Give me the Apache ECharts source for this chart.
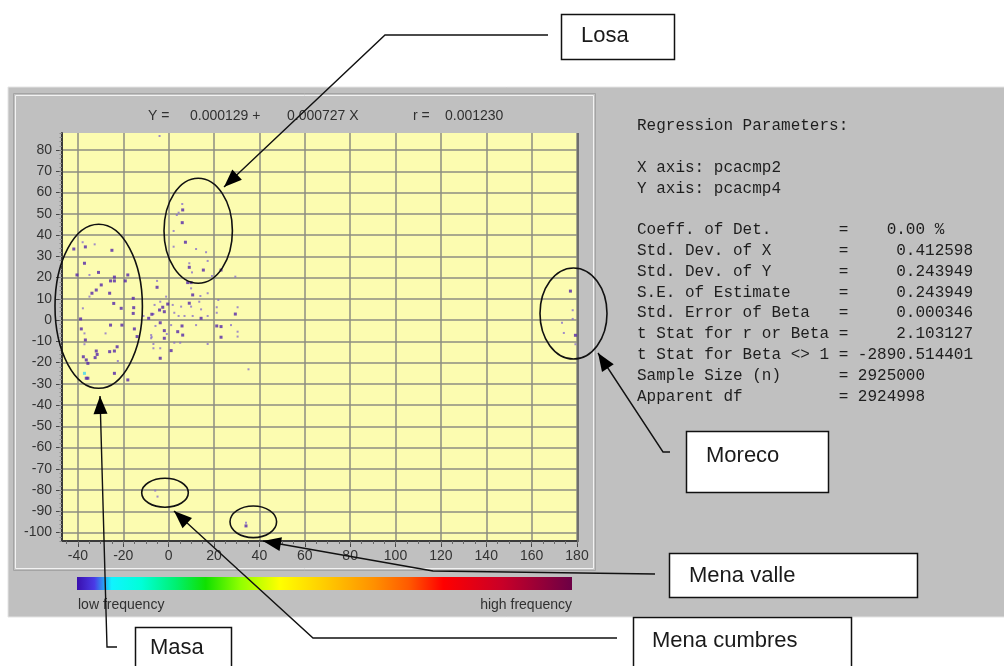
<!DOCTYPE html>
<html>
<head>
<meta charset="utf-8">
<script src="https://cdn.jsdelivr.net/npm/echarts@6/dist/echarts.min.js"></script>
<style>
  html, body { margin: 0; padding: 0; background: #ffffff; }
  #chart { width: 1004px; height: 666px; }
</style>
</head>
<body>
<div id="chart"></div>
<script>
// ---- data: pcacmp2 (x) vs pcacmp4 (y), third value = frequency of the cell ----
const masaPts = [
  [-37.9, 36.6, 1], [-36.7, 34.4, 2], [-32.6, 35.6, 1], [-41.8, 33.4, 2], [-25.0, 32.8, 2],
  [-37.1, 26.7, 2], [-40.4, 21.2, 2], [-34.9, 21.2, 1], [-30.9, 22.4, 2], [-23.9, 20.2, 2],
  [-18.0, 21.2, 2], [-19.1, 18.4, 2], [-25.6, 18.4, 2], [-23.9, 18.4, 2], [-29.7, 16.5, 2],
  [-31.9, 14.1, 2], [-33.8, 12.6, 2], [-34.9, 11.0, 1], [-26.0, 12.6, 2], [-24.2, 7.8, 2],
  [-15.6, 10.2, 2], [-15.4, 5.8, 2], [-20.9, 5.5, 2], [-37.8, 5.5, 1], [-15.6, 3.1, 2],
  [-38.8, 0.5, 2], [-25.6, -2.4, 2], [-20.6, -2.4, 2], [-38.5, -4.2, 2], [-37.1, -6.3, 1],
  [-27.8, -6.3, 1], [-15.1, -4.2, 2], [-13.9, -7.8, 2], [-36.7, -9.4, 2], [-37.1, -11.4, 1],
  [-31.9, -14.6, 2], [-31.5, -16.2, 2], [-32.4, -17.7, 2], [-26.0, -14.9, 2], [-23.9, -14.6, 2],
  [-22.7, -12.6, 2], [-37.6, -17.3, 2], [-36.3, -18.8, 2], [-35.6, -20.4, 2], [-22.4, -19.3, 1],
  [-37.1, -25.1, 6], [-36.3, -27.4, 2], [-35.6, -27.4, 2], [-23.9, -25.1, 2], [-18.0, -28.2, 2]
];
const losaCentrePts = [
  [6.0, 54.6, 1], [6.2, 51.8, 2], [4.4, 50.5, 1], [3.6, 49.4, 1], [6.0, 45.8, 2],
  [2.2, 41.9, 1], [7.4, 36.6, 2], [2.2, 34.5, 1], [12.1, 33.4, 1], [16.5, 31.9, 1],
  [17.2, 27.8, 1], [9.1, 26.7, 1], [9.1, 24.8, 2], [15.3, 23.5, 2], [10.3, 22.4, 1],
  [23.1, 23.5, 2], [19.1, 20.7, 1], [29.4, 20.4, 1], [8.4, 17.6, 2], [9.9, 17.6, 2],
  [-5.1, 18.4, 1], [-5.1, 15.4, 2], [9.9, 14.9, 1], [10.6, 11.8, 2], [17.2, 12.6, 1],
  [14.0, 11.3, 1], [21.9, 9.4, 1], [-1.1, 11.0, 1], [-3.7, 8.6, 1], [-0.4, 7.5, 2],
  [-2.6, 6.0, 2], [1.8, 7.1, 1], [9.1, 7.9, 2], [9.9, 6.3, 1], [5.5, 6.3, 1],
  [13.5, 8.6, 1], [14.3, 5.0, 1], [21.2, 6.0, 1], [30.4, 6.0, 1], [-6.2, 7.1, 1],
  [-4.0, 4.7, 2], [-6.7, 2.8, 1], [-8.8, 0.8, 2], [-11.1, 1.9, 1], [-1.9, 3.9, 2],
  [2.5, 3.4, 1], [4.4, 1.9, 1], [7.0, 1.9, 1], [10.6, 1.9, 1], [14.3, 0.8, 2],
  [17.2, 1.9, 1], [21.2, 3.4, 1], [29.4, 2.8, 2], [-3.7, -1.3, 2], [1.1, -2.4, 1],
  [5.9, -2.8, 2], [12.1, -2.4, 1], [21.2, -2.8, 2], [23.1, -3.1, 2], [27.5, -2.4, 1],
  [-5.8, -2.8, 1], [-1.9, -5.0, 2], [4.0, -5.5, 2], [6.2, -7.1, 2], [-0.8, -6.6, 1],
  [-1.9, -8.6, 2], [-7.7, -7.1, 1], [-7.7, -8.6, 1], [23.1, -8.1, 2], [30.4, -5.5, 1],
  [30.4, -7.8, 1], [2.5, -10.7, 1], [5.1, -10.7, 1], [17.2, -11.3, 1], [-6.7, -11.3, 1],
  [-6.7, -13.3, 1], [-3.7, -13.3, 1], [1.1, -14.4, 2], [-3.7, -18.0, 2], [35.2, -23.2, 1],
  [-7.4, 2.7, 2], [-7.5, -8.0, 1], [-4.0, 86.6, 1]
];
const morecoPts = [
  [177.1, 13.6, 2], [178.1, 4.6, 1], [178.1, 0.5, 1], [173.4, -1.3, 1],
  [174.2, -6.1, 1], [179.3, -7.2, 2], [179.3, -11.4, 1]
];
const menaCumbresPts = [[-5.9, -80.3, 1], [-4.9, -83.1, 1]];
const menaVallePts = [[34.1, -95.4, 1], [34.1, -96.9, 2]];

// axis ticks and labels
const xTicks = [-40, -20, 0, 20, 40, 60, 80, 100, 120, 140, 160, 180];
const yTicks = [80, 70, 60, 50, 40, 30, 20, 10, 0, -10, -20, -30, -40, -50, -60, -70, -80, -90, -100];
const xMinorTicks = [];
for (let v = -45; v <= 180; v += 5) xMinorTicks.push(v);
const yMinorTicks = [];
for (let v = -104; v <= 88; v += 2) yMinorTicks.push(v);

// regression summary
const eqIntercept = '0.000129';
const eqSlope = '0.000727';
const eqR = '0.001230';
const xVarName = 'pcacmp2';
const yVarName = 'pcacmp4';
const statNames = [
  'Coeff. of Det.', 'Std. Dev. of X', 'Std. Dev. of Y', 'S.E. of Estimate',
  'Std. Error of Beta', 't Stat for r or Beta', 't Stat for Beta <> 1',
  'Sample Size (n)', 'Apparent df'
];
const statValues = [
  '   0.00 %', '    0.412598', '    0.243949', '    0.243949',
  '    0.000346', '    2.103127', '-2890.514401', '2925000', '2924998'
];

// colour scale of the frequency bar
const freqStops = [
  [0, '#3a0fae'], [0.035, '#4a3ae6'], [0.07, '#10f4ff'], [0.13, '#00ffd8'],
  [0.2, '#00f070'], [0.26, '#10e000'], [0.33, '#90ff00'], [0.41, '#ffff00'],
  [0.5, '#ffcc00'], [0.6, '#ff9000'], [0.67, '#ff5a00'], [0.74, '#ff0000'],
  [0.86, '#c80028'], [1, '#6c0045']
];

// callout labels for the clusters
const callouts = [
  { name: 'Losa', box: [561, 14, 113, 45], text: [581, 36], path: [[548, 35], [385, 35]], tip: [224, 187] },
  { name: 'Moreco', box: [686, 431, 142, 61], text: [706, 456], path: [[670, 452], [663, 452]], tip: [598, 353] },
  { name: 'Mena valle', box: [669, 553, 248, 44], text: [689, 576], path: [[655, 574], [433, 571]], tip: [263, 541] },
  { name: 'Mena cumbres', box: [633, 617, 218, 60], text: [652, 641], path: [[617, 638], [313, 638]], tip: [174, 511] },
  { name: 'Masa', box: [135, 627, 96, 50], text: [150, 648], path: [[117, 647], [107, 647]], tip: [100, 396] }
];
const clusterRings = [
  { cx: 98.7, cy: 306.3, rx: 43.7, ry: 82 },
  { cx: 198.2, cy: 230.8, rx: 34.2, ry: 52.5 },
  { cx: 573.5, cy: 313.5, rx: 33.5, ry: 45.5 },
  { cx: 165, cy: 492.8, rx: 23.3, ry: 14.5 },
  { cx: 253.3, cy: 521.8, rx: 23.3, ry: 15.8 }
];

const chart = echarts.init(document.getElementById('chart'), null, { renderer: 'canvas' });

const SANS = 'Liberation Sans, Arial, sans-serif';
const MONO = 'Liberation Mono, Courier New, monospace';
const graphics = [];

// window panels
graphics.push({ type: 'rect', z: -20, shape: { x: 8, y: 87, width: 1000, height: 530 },
  style: { fill: '#c0c0c0', stroke: '#e4e4e4', lineWidth: 1 } });
graphics.push({ type: 'rect', z: -19, shape: { x: 13.5, y: 93.5, width: 582, height: 477 },
  style: { fill: 'none', stroke: '#a4a4a4', lineWidth: 1 } });
graphics.push({ type: 'rect', z: -19, shape: { x: 15.5, y: 95.5, width: 578, height: 473 },
  style: { fill: 'none', stroke: '#f2f2f2', lineWidth: 1 } });

// regression equation above the plot
const eqParts = [
  ['Y =', 148], [eqIntercept + ' +', 190], [eqSlope + ' X', 287], ['r =', 413], [eqR, 445]
];
eqParts.forEach(p => graphics.push({ type: 'text', z: 5, x: p[1], y: 116,
  style: { text: p[0], fill: '#303030', font: '14px ' + SANS, verticalAlign: 'middle' } }));

// plot frame (right edge shading)
graphics.push({ type: 'line', z: 5, shape: { x1: 578, y1: 133, x2: 578, y2: 542 },
  style: { stroke: '#6e6e6e', lineWidth: 2 } });

// regression parameter listing
const statLines = ['Regression Parameters:', '', 'X axis: ' + xVarName, 'Y axis: ' + yVarName, '']
  .concat(statNames.map((n, i) => n.padEnd(21, ' ') + '= ' + statValues[i]));
statLines.forEach((line, i) => {
  if (!line) return;
  graphics.push({ type: 'text', z: 5, x: 637, y: 126 + 20.8 * i,
    style: { text: line, fill: '#1e1e1e', font: '16px ' + MONO, verticalAlign: 'middle' } });
});

// frequency colour bar
graphics.push({ type: 'rect', z: 5, shape: { x: 77, y: 577, width: 495, height: 13 },
  style: { fill: new echarts.graphic.LinearGradient(0, 0, 1, 0,
    freqStops.map(s => ({ offset: s[0], color: s[1] }))) } });
graphics.push({ type: 'text', z: 5, x: 78, y: 605,
  style: { text: 'low frequency', fill: '#303030', font: '14px ' + SANS, verticalAlign: 'middle' } });
graphics.push({ type: 'text', z: 5, x: 572, y: 605,
  style: { text: 'high frequency', fill: '#303030', font: '14px ' + SANS, verticalAlign: 'middle', align: 'right' } });

// cluster rings
clusterRings.forEach(r => graphics.push({ type: 'ellipse', z: 50,
  shape: { cx: r.cx, cy: r.cy, rx: r.rx, ry: r.ry },
  style: { fill: 'none', stroke: '#111', lineWidth: 1.6 } }));

// leader lines, arrow heads and label boxes
function arrowHead(tip, from, len, half) {
  const dx = tip[0] - from[0], dy = tip[1] - from[1];
  const d = Math.hypot(dx, dy);
  const ux = dx / d, uy = dy / d;
  const bx = tip[0] - ux * len, by = tip[1] - uy * len;
  return [tip, [bx - uy * half, by + ux * half], [bx + uy * half, by - ux * half]];
}
callouts.forEach(c => {
  const pts = c.path.concat([c.tip]);
  const last = pts[pts.length - 2];
  graphics.push({ type: 'polyline', z: 50, shape: { points: pts },
    style: { stroke: '#111', lineWidth: 1.4, fill: null } });
  graphics.push({ type: 'polygon', z: 51, shape: { points: arrowHead(c.tip, last, 18, 7) },
    style: { fill: '#000' } });
  graphics.push({ type: 'rect', z: 52,
    shape: { x: c.box[0] + 0.5, y: c.box[1] + 0.5, width: c.box[2], height: c.box[3] },
    style: { fill: '#ffffff', stroke: '#111', lineWidth: 1.5 } });
  graphics.push({ type: 'text', z: 53, x: c.text[0], y: c.text[1],
    style: { text: c.name, fill: '#1a1a1a', font: '22px ' + SANS, verticalAlign: 'middle' } });
});

const allPts = [].concat(masaPts, losaCentrePts, morecoPts, menaCumbresPts, menaVallePts);

const option = {
  backgroundColor: '#ffffff',
  animation: false,
  grid: { left: 62, top: 133, width: 515, height: 408, show: true,
    backgroundColor: '#fcfcb0', borderWidth: 0 },
  visualMap: {
    show: false, type: 'piecewise', dimension: 2, seriesIndex: 0,
    pieces: [
      { lte: 1, color: '#8a70cc', symbolSize: 2 },
      { gt: 1, lte: 3, color: '#5426aa', symbolSize: 3 },
      { gt: 3, color: '#40d4f0', symbolSize: 3 }
    ]
  },
  xAxis: [
    { type: 'value', min: -47, max: 180, gridIndex: 0, position: 'bottom',
      axisLine: { show: true, onZero: false, lineStyle: { color: '#3a3a3a', width: 2 } },
      axisTick: { show: true, customValues: xTicks, length: 6, lineStyle: { color: '#444', width: 1 } },
      axisLabel: { customValues: xTicks, color: '#333', fontSize: 14, fontFamily: SANS, margin: 8 },
      splitLine: { show: true, lineStyle: { color: '#8e8e82', width: 1.5 } } },
    { type: 'value', min: -47, max: 180, gridIndex: 0, position: 'bottom',
      axisLine: { show: false, onZero: false },
      axisTick: { show: true, customValues: xMinorTicks, length: 3, lineStyle: { color: '#666', width: 1 } },
      axisLabel: { show: false }, splitLine: { show: false } }
  ],
  yAxis: [
    { type: 'value', min: -104, max: 88, gridIndex: 0, position: 'left',
      axisLine: { show: true, onZero: false, lineStyle: { color: '#3a3a3a', width: 2 } },
      axisTick: { show: true, customValues: yTicks, length: 6, lineStyle: { color: '#444', width: 1 } },
      axisLabel: { customValues: yTicks, color: '#333', fontSize: 14, fontFamily: SANS, margin: 10 },
      splitLine: { show: true, lineStyle: { color: '#8e8e82', width: 1.5 } } },
    { type: 'value', min: -104, max: 88, gridIndex: 0, position: 'left',
      axisLine: { show: false, onZero: false },
      axisTick: { show: true, customValues: yMinorTicks, length: 2.5, lineStyle: { color: '#8a8a8a', width: 1 } },
      axisLabel: { show: false }, splitLine: { show: false } }
  ],
  series: [{
    type: 'scatter', xAxisIndex: 0, yAxisIndex: 0, symbol: 'rect',
    data: allPts, z: 10, silent: true
  }],
  graphic: { elements: graphics }
};
chart.setOption(option);
</script>
</body>
</html>
